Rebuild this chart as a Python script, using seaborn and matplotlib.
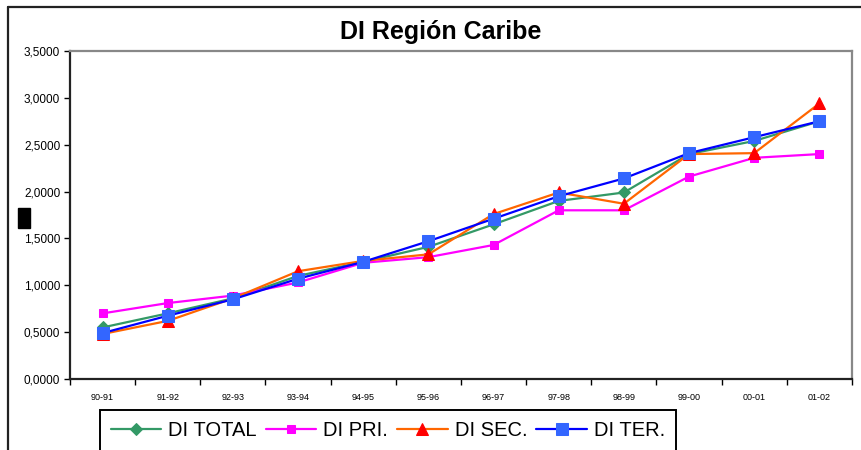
import numpy as np
import matplotlib
matplotlib.use("Agg")
import matplotlib.pyplot as plt
from matplotlib.lines import Line2D
from matplotlib.patches import Rectangle
from matplotlib.ticker import FuncFormatter, MultipleLocator
import seaborn as sns

# data
periods = ['90-91', '91-92', '92-93', '93-94', '94-95', '95-96',
           '96-97', '97-98', '98-99', '99-00', '00-01', '01-02']
di_total = [0.55, 0.70, 0.86, 1.10, 1.25, 1.41, 1.65, 1.90, 1.99, 2.40, 2.54, 2.75]
di_pri = [0.70, 0.81, 0.89, 1.03, 1.24, 1.30, 1.43, 1.80, 1.80, 2.16, 2.36, 2.40]
di_sec = [0.48, 0.62, 0.86, 1.15, 1.26, 1.33, 1.76, 1.99, 1.87, 2.40, 2.41, 2.94]
di_ter = [0.49, 0.675, 0.85, 1.07, 1.25, 1.47, 1.71, 1.95, 2.14, 2.41, 2.58, 2.75]

sns.set_style('white')
plt.rcParams['font.family'] = ['Liberation Sans', 'DejaVu Sans']
plt.rcParams['text.color'] = 'black'
plt.rcParams['xtick.color'] = 'black'
plt.rcParams['ytick.color'] = 'black'

fig = plt.figure(figsize=(8.61, 4.5), dpi=100)
ax = fig.add_axes([0.0813, 0.1578, 0.9082, 0.7289])

# series: label, values, line colour, marker, marker colour, marker size
series = [
    ('DI TOTAL', di_total, '#339966', 'D', '#339966', 6),
    ('DI PRI.', di_pri, '#FF00FF', 's', '#FF00FF', 6),
    ('DI SEC.', di_sec, '#FF6600', '^', '#FF0000', 8),
    ('DI TER.', di_ter, '#0000FF', 's', '#3366FF', 9),
]
for label, vals, lc, mk, mc, ms in series:
    sns.lineplot(x=periods, y=vals, ax=ax, color=lc, linewidth=1.6,
                 marker=mk, markersize=ms, markerfacecolor=mc,
                 markeredgecolor=mc, label=label, sort=False)

ax.set_xlim(-0.5, len(periods) - 0.5)
ax.set_ylim(0, 3.5)
ax.yaxis.set_major_locator(MultipleLocator(0.5))
ax.yaxis.set_major_formatter(FuncFormatter(lambda v, p: f'{v:.4f}'.replace('.', ',')))

ax.set_xticks(np.arange(-0.5, len(periods), 1), minor=True)
ax.tick_params(axis='x', which='major', length=0, labelsize=6.5, pad=10)
ax.tick_params(axis='x', which='minor', length=4, width=1, color='black', direction='out')
ax.tick_params(axis='y', which='major', length=4, width=1, color='black',
               direction='out', labelsize=8.5, pad=3)
ax.tick_params(left=True, bottom=True, which='both')
ax.set_xlabel('')
ax.set_ylabel('')

for side in ['left', 'bottom']:
    ax.spines[side].set_color('#222222')
    ax.spines[side].set_linewidth(1.6)
for side in ['top', 'right']:
    ax.spines[side].set_color('#888888')
    ax.spines[side].set_linewidth(1.6)

fig.text(0.512, 0.928, 'DI Región Caribe', ha='center', va='center',
         fontsize=18, fontweight='bold', color='black')

handles, labels = ax.get_legend_handles_labels()
ax.legend(handles, labels, loc='upper left', bbox_to_anchor=(0.116, 0.089),
          bbox_transform=fig.transFigure, ncol=4, fontsize=14.5, frameon=True,
          fancybox=False, shadow=False, framealpha=1, edgecolor='black',
          handlelength=2.5, handletextpad=0.35, columnspacing=0.45,
          borderpad=0.55, borderaxespad=0)
ax.get_legend().get_frame().set_linewidth(1.4)

# outer chart border and the stray glyph box on the left
fig.add_artist(Line2D([8 / 861, 1.0], [1 - 7 / 450, 1 - 7 / 450],
                      transform=fig.transFigure, color='#222222', linewidth=1.6))
fig.add_artist(Line2D([8 / 861, 8 / 861], [0, 1 - 7 / 450],
                      transform=fig.transFigure, color='#222222', linewidth=1.6))
fig.add_artist(Rectangle((18 / 861, 1 - 228 / 450), 12 / 861, 20 / 450,
                         transform=fig.transFigure, color='black'))

fig.savefig('out.png', dpi=100)
plt.close(fig)
